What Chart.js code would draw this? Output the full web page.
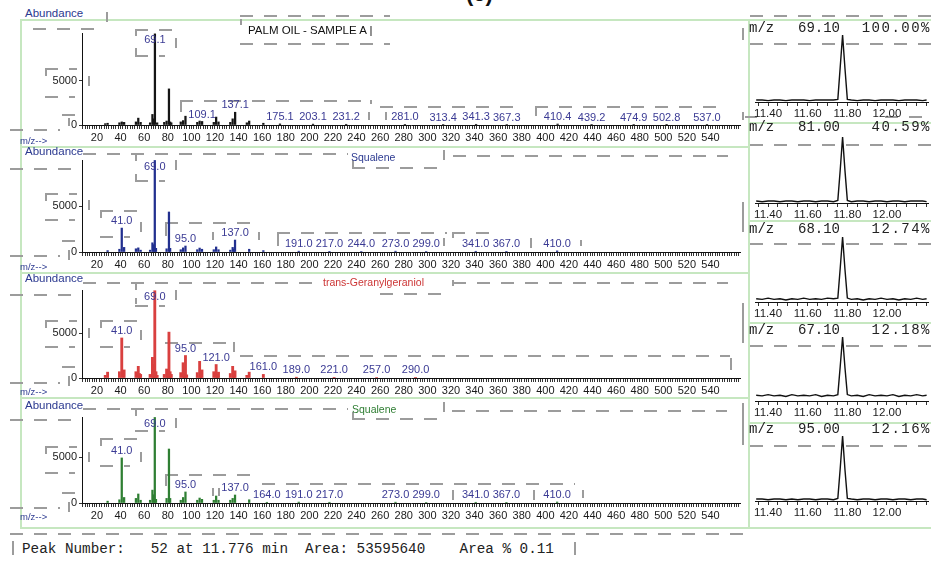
<!DOCTYPE html>
<html lang="en">
<head>
<meta charset="UTF-8">
<title>Palm oil - sample A, spectra</title>
<script src="https://cdn.jsdelivr.net/npm/chart.js@4.4.1/dist/chart.umd.min.js"></script>
<style>
  html, body { margin: 0; padding: 0; background: #fff; }
  #page { position: relative; width: 931px; height: 561px; overflow: hidden; font-family: "Liberation Sans", Arial, sans-serif; }
  #page canvas { position: absolute; }
  .txt { position: absolute; white-space: pre; line-height: 1; transform: translateY(-50%); }
  .mono { font-family: "Liberation Mono", "Courier New", monospace; }
  .green { position: absolute; background: #c6e7c0; }
  .dh { position: absolute; height: 2px; background: repeating-linear-gradient(90deg, #9c9c9c 0 13px, transparent 13px 24px); }
  .dv { position: absolute; width: 2px; background: #9c9c9c; }
</style>
</head>
<body>
<div id="page"></div>
<script>
// spectra : m/z and abundance
const sampleMz    = [27, 29, 39, 41, 43, 53, 55, 57, 65, 67, 68, 69.1, 71, 77, 79, 81, 82, 83, 91, 93, 95, 105, 107, 109.1, 119, 121, 123, 133, 135, 137.1, 147, 149, 161, 175.1, 203.1, 231.2, 281.0, 313.4, 341.3, 367.3, 410.4, 439.2, 474.9, 502.8, 537.0];
const sampleAbund = [150, 200, 250, 350, 300, 350, 780, 300, 250, 1200, 700, 10350, 250, 300, 450, 4100, 350, 250, 350, 500, 1000, 300, 450, 400, 300, 900, 350, 300, 700, 1450, 250, 450, 200, 120, 100, 80, 70, 60, 80, 60, 110, 50, 50, 40, 50];
const sampleMarked = [69.1, 109.1, 137.1, 175.1, 203.1, 231.2, 281.0, 313.4, 341.3, 367.3, 410.4, 439.2, 474.9, 502.8, 537.0];

const squaleneMz    = [29, 39, 41, 43, 53, 55, 57, 65, 67, 68, 69, 70, 79, 81, 82, 91, 93, 95, 105, 107, 109, 119, 121, 123, 133, 135, 136, 137, 149, 161, 191, 217, 244, 273, 299, 341, 367, 410];
const squaleneAbund = [150, 300, 2600, 500, 350, 450, 200, 200, 1000, 800, 9950, 400, 350, 4350, 400, 250, 450, 650, 250, 430, 300, 250, 550, 250, 200, 500, 300, 1300, 300, 150, 90, 70, 60, 90, 60, 80, 70, 120];
const squaleneMarked = [69, 41, 95, 137, 191, 217, 244, 273, 299, 341, 367, 410];

const ggeranMz    = [27, 29, 39, 41, 43, 53, 55, 56, 57, 65, 67, 68, 69, 70, 71, 77, 79, 80, 81, 82, 83, 91, 93, 94, 95, 96, 105, 107, 108, 109, 119, 121, 122, 123, 133, 135, 136, 137, 147, 149, 161, 189, 221, 257, 290];
const ggeranAbund = [300, 650, 700, 4450, 900, 700, 1300, 500, 400, 400, 2300, 1500, 9700, 700, 300, 400, 1000, 500, 5100, 700, 400, 600, 1700, 500, 2500, 350, 600, 1850, 450, 900, 700, 1500, 400, 650, 500, 1300, 400, 800, 300, 650, 400, 90, 70, 60, 70];
const ggeranMarked = [69, 41, 95, 121, 161, 189, 221, 257, 290];

const squalene2Mz    = [29, 39, 41, 43, 53, 55, 57, 65, 67, 68, 69, 70, 79, 81, 82, 91, 93, 95, 105, 107, 109, 119, 121, 123, 133, 135, 137, 149, 164, 191, 217, 273, 299, 341, 367, 410];
const squalene2Abund = [200, 350, 4900, 600, 500, 980, 300, 300, 1400, 900, 9300, 400, 500, 5870, 500, 300, 600, 1200, 300, 540, 400, 300, 760, 300, 300, 500, 870, 350, 80, 100, 80, 90, 60, 80, 70, 110];
const squalene2Marked = [69, 41, 95, 137, 164, 191, 217, 273, 299, 341, 367, 410];

const abundTicks = [0, 5000];

// ion chromatograms (min, % of each trace)
const rtTimes = [11.34, 11.37, 11.40, 11.43, 11.46, 11.49, 11.52, 11.55, 11.58, 11.61, 11.64, 11.67, 11.70, 11.73, 11.752, 11.764, 11.776, 11.788, 11.80, 11.82, 11.85, 11.88, 11.91, 11.94, 11.97, 12.00, 12.03, 12.06, 12.09, 12.12, 12.15, 12.18, 12.20];
const ion69 = [3, 3, 2, 3, 3, 2, 3, 3, 3, 2, 3, 3, 3, 3, 4, 52, 100, 50, 4, 3, 2, 3, 3, 2, 3, 3, 3, 2, 3, 3, 3, 2, 3];
const ion81 = [3, 2, 3, 3, 2, 3, 3, 2, 3, 3, 2, 3, 3, 2, 4, 50, 100, 49, 4, 2, 3, 3, 2, 3, 3, 2, 3, 3, 2, 3, 3, 3, 2];
const ion68 = [5, 4, 6, 4, 5, 3, 5, 4, 6, 4, 5, 4, 6, 5, 6, 52, 100, 50, 6, 4, 5, 3, 5, 4, 6, 4, 5, 3, 5, 4, 6, 4, 5];
const ion67 = [9, 8, 10, 8, 9, 7, 10, 8, 9, 8, 10, 7, 9, 8, 10, 54, 100, 52, 10, 8, 9, 7, 10, 8, 9, 8, 10, 7, 9, 8, 10, 8, 9];
const ion95 = [3, 3, 2, 3, 3, 2, 3, 2, 3, 3, 2, 3, 3, 2, 4, 50, 100, 48, 4, 3, 2, 3, 3, 2, 3, 3, 2, 3, 3, 2, 3, 3, 2];
const rtLabelled = [11.4, 11.6, 11.8, 12.0];
const ionMasses = ['69.10', '81.00', '68.10', '67.10', '95.00'];
const ionShares = ['100.00%', '40.59%', '12.74%', '12.18%', '12.16%'];

const FONT = '"Liberation Sans", Arial, sans-serif';
Chart.defaults.font.family = FONT;
const page = document.getElementById('page');

function canvasAt(x, y, w, h) {
    const c = document.createElement('canvas');
    c.width = w; c.height = h;
    c.style.left = x + 'px'; c.style.top = y + 'px';
    page.appendChild(c);
    return c;
}

function addText(str, x, y, css, cls) {
    const d = document.createElement('div');
    d.className = 'txt' + (cls ? ' ' + cls : '');
    d.textContent = str;
    d.style.cssText = 'left:' + x + 'px;top:' + y + 'px;' + (css || '');
    page.appendChild(d);
    return d;
}

// peak labels above marked peaks
function peakLabels(marks) {
    return {
        id: 'peakLabels',
        afterDatasetsDraw(chart) {
            const meta = chart.getDatasetMeta(0);
            const pts = chart.data.datasets[0].data;
            const ctx = chart.ctx;
            ctx.save();
            ctx.font = '11px ' + FONT;
            ctx.fillStyle = '#3a3a94';
            ctx.textAlign = 'center';
            ctx.textBaseline = 'middle';
            marks.forEach(m => {
                const i = pts.findIndex(p => p.x === m);
                if (i < 0) return;
                const el = meta.data[i];
                const y = Math.max(el.y - 7, chart.chartArea.top + 7);
                ctx.fillText(m.toFixed(1), el.x, y);
            });
            ctx.restore();
        }
    };
}

const leftPanels = [
    { mz: sampleMz,    ab: sampleAbund,    marks: sampleMarked,    color: '#151515', bar: 1.6, top: 33,  base: 125, yMax: 10450 },
    { mz: squaleneMz,  ab: squaleneAbund,  marks: squaleneMarked,  color: '#22308f', bar: 1.6, top: 160, base: 252, yMax: 10000 },
    { mz: ggeranMz,    ab: ggeranAbund,    marks: ggeranMarked,    color: '#d9403f', bar: 2.2, top: 290, base: 378, yMax: 9780 },
    { mz: squalene2Mz, ab: squalene2Abund, marks: squalene2Marked, color: '#2f7f33', bar: 1.6, top: 417, base: 503, yMax: 9350 }
];

function spectrum(p) {
    const cv = canvasAt(0, p.top - 10, 748, p.base - p.top + 30);
    new Chart(cv, {
        type: 'bar',
        data: {
            datasets: [{
                data: p.mz.map((m, i) => ({ x: m, y: p.ab[i] })),
                backgroundColor: p.color,
                borderWidth: 0,
                barThickness: p.bar,
                grouped: false
            }]
        },
        options: {
            responsive: false,
            animation: false,
            layout: { padding: { top: 10, right: 8, left: 0, bottom: 0 } },
            plugins: { legend: { display: false }, tooltip: { enabled: false } },
            scales: {
                x: {
                    type: 'linear', min: 7.3, max: 565, offset: false,
                    afterFit: s => { s.height = 20; },
                    border: { color: '#111', width: 1 },
                    grid: { drawOnChartArea: false, offset: false, tickLength: 4, color: '#333' },
                    ticks: {
                        stepSize: 2, autoSkip: false, includeBounds: false, maxRotation: 0, padding: 2,
                        color: '#1a1a1a', font: { size: 11 },
                        callback: v => (v % 20 === 0 && v >= 20 && v <= 540) ? String(v) : ''
                    }
                },
                y: {
                    min: 0, max: p.yMax,
                    afterFit: s => { s.width = 82; },
                    afterBuildTicks: s => { s.ticks = abundTicks.map(v => ({ value: v })); },
                    border: { color: '#111', width: 1 },
                    grid: { drawOnChartArea: false, tickLength: 3, color: '#333' },
                    ticks: { padding: 2, color: '#1a1a1a', font: { size: 11 }, callback: v => String(v) }
                }
            }
        },
        plugins: [peakLabels(p.marks)]
    });
}

const traces = [ion69, ion81, ion68, ion67, ion95];
const rightTops = [35, 137, 237, 337, 436];
const rightAxes = [102, 203, 302, 401, 501];
const rightHeads = [28, 127, 229, 330, 429];

function chromatogram(k) {
    const top = rightTops[k], axis = rightAxes[k];
    const cv = canvasAt(748, top - 3, 183, axis - top + 23);
    new Chart(cv, {
        type: 'line',
        data: {
            datasets: [{
                data: rtTimes.map((t, i) => ({ x: t, y: traces[k][i] })),
                borderColor: '#111', borderWidth: 1.4, pointRadius: 0, tension: 0, fill: false
            }]
        },
        options: {
            responsive: false,
            animation: false,
            layout: { padding: { top: 3, left: 7, right: 3, bottom: 0 } },
            plugins: { legend: { display: false }, tooltip: { enabled: false } },
            scales: {
                x: {
                    type: 'linear', min: 11.334, max: 12.207,
                    afterFit: s => { s.height = 20; },
                    border: { color: '#111', width: 1 },
                    grid: { drawOnChartArea: false, tickLength: 4, color: '#333' },
                    ticks: {
                        stepSize: 0.05, autoSkip: false, includeBounds: false, maxRotation: 0, padding: 1,
                        color: '#1a1a1a', font: { size: 11.5 },
                        callback: v => rtLabelled.some(r => Math.abs(r - v) < 1e-6) ? v.toFixed(2) : ''
                    }
                },
                y: { display: false, min: 0, max: 100 }
            }
        }
    });
}

// frame lines (light green)
[[20, 19, 911, 2], [20, 19, 2, 510], [748, 19, 2, 510], [20, 527, 911, 2],
 [20, 146, 728, 2], [20, 272, 728, 2], [20, 397, 728, 2],
 [748, 122, 183, 2], [748, 220, 183, 2], [748, 322, 183, 2], [748, 422, 183, 2]
].forEach(r => {
    const d = document.createElement('div');
    d.className = 'green';
    d.style.cssText = 'left:' + r[0] + 'px;top:' + r[1] + 'px;width:' + r[2] + 'px;height:' + r[3] + 'px';
    page.appendChild(d);
});

// grey dashed boxes of the scan
const dashes = [
    'h 33 28 64', 'h 135 29 40', 'v 135 29 7', 'h 135 55 30', 'v 135 48 7', 'v 175 38 10',
    'h 240 15 150', 'h 240 43 150', 'v 240 19 6', 'h 45 68 32', 'v 45 68 8', 'h 45 96 30', 'v 88 76 10',
    'h 62 114 18', 'v 68 118 8', 'h 10 129 50', 'h 180 100 190', 'v 180 100 12', 'v 370 100 4', 'v 368 112 8',
    'h 380 106 140', 'v 385 112 8', 'h 535 106 190', 'v 535 106 10', 'v 742 112 8', 'v 742 28 12', 'v 106 12 10',
    'h 83 153 265', 'h 453 155 275', 'v 135 153 8', 'h 135 180 30', 'v 135 174 6', 'v 175 160 10', 'h 10 168 65',
    'h 352 167 85', 'v 352 160 7', 'v 443 150 10', 'h 45 193 32', 'v 45 193 8', 'h 45 219 30', 'v 88 200 10',
    'h 100 210 40', 'v 100 210 8', 'h 100 236 30', 'v 140 222 10', 'h 165 222 85', 'v 165 222 14', 'h 62 240 18',
    'h 277 232 170', 'v 277 232 14', 'h 452 232 40', 'v 452 232 6', 'v 212 232 8', 'v 258 232 8', 'v 443 238 8',
    'v 530 238 10', 'v 580 240 6', 'h 10 255 50', 'v 68 250 10', 'v 742 202 30',
    'h 83 282 235', 'h 453 282 275', 'h 10 294 65', 'v 135 282 8', 'h 135 305 30', 'v 135 298 6', 'v 175 290 10',
    'h 45 320 32', 'v 45 320 8', 'h 45 346 30', 'v 88 328 10', 'h 100 320 40', 'v 100 320 8', 'h 100 346 30', 'v 140 330 10',
    'h 165 342 68', 'v 233 342 10', 'h 240 355 490', 'v 730 358 12', 'h 62 366 18', 'h 10 382 50', 'v 68 376 10',
    'v 452 280 6', 'h 380 293 67', 'v 742 303 40',
    'h 83 408 265', 'h 452 410 275', 'h 10 419 65', 'v 135 408 8', 'h 135 430 30', 'v 175 418 10',
    'h 352 418 85', 'v 352 412 7', 'v 443 402 10', 'h 45 446 32', 'v 45 446 8', 'h 45 472 30', 'v 88 452 10',
    'h 100 438 40', 'v 100 438 8', 'h 100 465 30', 'v 140 452 10', 'h 165 474 85', 'v 165 474 12',
    'h 262 483 313', 'v 212 488 8', 'v 218 488 8', 'v 452 490 10', 'v 533 490 10', 'v 582 490 8',
    'h 62 492 18', 'h 10 507 50', 'v 68 502 10', 'v 742 403 42',
    'h 10 533 735', 'v 12 541 14', 'v 574 542 13',
    'h 750 15 181', 'h 750 43 181', 'h 750 144 181', 'h 750 243 181', 'h 750 345 181', 'h 750 445 181',
    'h 745 116 12', 'h 885 116 46'
];
dashes.forEach(s => {
    const [k, x, y, n] = s.split(' ');
    const d = document.createElement('div');
    d.className = k === 'h' ? 'dh' : 'dv';
    d.style.left = x + 'px'; d.style.top = y + 'px';
    if (k === 'h') d.style.width = n + 'px'; else d.style.height = n + 'px';
    page.appendChild(d);
});

leftPanels.forEach(spectrum);
traces.forEach((t, k) => chromatogram(k));

// texts
const blue = 'color:#2b3990;';
addText('(c)', 466, -6, 'font-weight:bold;font-size:22px;color:#111;');
[14, 152, 279, 406].forEach(y => addText('Abundance', 25, y, blue + 'font-size:11.5px;'));
[141, 267, 392, 517].forEach(y => addText('m/z-->', 20, y, blue + 'font-size:9.5px;'));
addText('PALM OIL - SAMPLE A |', 248, 31, 'font-size:11.5px;color:#111;');
addText('Squalene', 351, 157, blue + 'font-size:10.5px;');
addText('trans-Geranylgeraniol', 323, 282, 'color:#cc3535;font-size:10.5px;');
addText('Squalene', 352, 409, 'color:#2e7d32;font-size:10.5px;');
addText('Peak Number:   52 at 11.776 min  Area: 53595640    Area % 0.11', 22, 549, 'font-size:14.3px;color:#222;', 'mono');
rightHeads.forEach((y, k) => {
    addText('m/z', 749, y, 'font-size:14px;color:#222;', 'mono');
    addText(ionMasses[k], 798, y, 'font-size:14px;color:#222;', 'mono');
    const t = addText(ionShares[k], 0, y, 'font-size:14px;color:#222;letter-spacing:1.5px;', 'mono');
    t.style.left = 'auto'; t.style.right = '0px';
});
</script>
</body>
</html>
